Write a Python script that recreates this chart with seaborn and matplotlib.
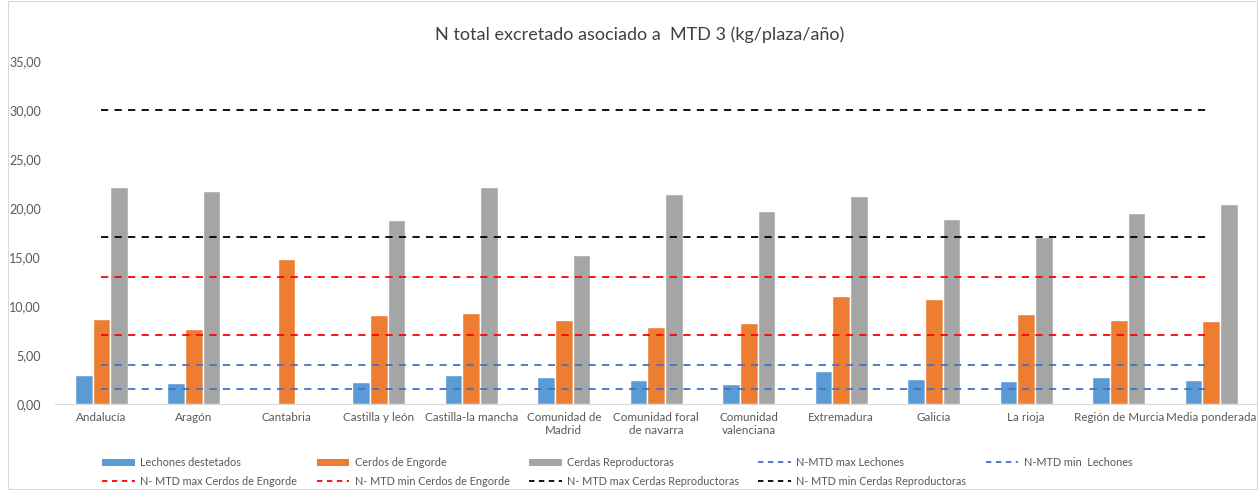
import matplotlib
matplotlib.use("Agg")
import matplotlib.pyplot as plt
import seaborn as sns
import pandas as pd
import numpy as np
from matplotlib.lines import Line2D
from matplotlib.patches import Patch

categories = ["Andalucía", "Aragón", "Cantabria", "Castilla y león", "Castilla-la mancha",
              "Comunidad de\nMadrid", "Comunidad foral\nde navarra", "Comunidad\nvalenciana",
              "Extremadura", "Galicia", "La rioja", "Región de Murcia", "Media ponderada"]
lechones = [2.95, 2.10, np.nan, 2.27, 2.95, 2.80, 2.45, 2.07, 3.35, 2.55, 2.34, 2.75, 2.41]
engorde = [8.65, 7.60, 14.75, 9.05, 9.30, 8.53, 7.88, 8.22, 11.04, 10.70, 9.17, 8.60, 8.45]
cerdas = [22.10, 21.75, np.nan, 18.75, 22.10, 15.20, 21.45, 19.65, 21.20, 18.82, 17.00, 19.47, 20.40]

series_names = ["Lechones destetados", "Cerdos de Engorde", "Cerdas Reproductoras"]
series_colors = ["#5B9BD5", "#ED7D31", "#A5A5A5"]

line_names = ["N-MTD max Lechones", "N-MTD min  Lechones",
              "N- MTD max Cerdos de Engorde", "N- MTD min Cerdos de Engorde",
              "N- MTD max Cerdas Reproductoras", "N- MTD min Cerdas Reproductoras"]
line_values = [4.0, 1.5, 13.0, 7.0, 30.0, 17.0]
line_colors = ["#4472C4", "#4472C4", "#FF0000", "#FF0000", "#000000", "#000000"]

rows = []
for name, vals in zip(series_names, [lechones, engorde, cerdas]):
    for c, v in zip(categories, vals):
        rows.append({"cat": c, "serie": name, "val": v})
df = pd.DataFrame(rows)

sns.set_style("white")
plt.rcParams['font.family'] = ['Lato', 'DejaVu Sans']

fig = plt.figure(figsize=(12.6, 4.9), dpi=100)
ax = fig.add_axes([0.0437, 0.1755, 0.9543, 0.7005])

sns.barplot(data=df, x="cat", y="val", hue="serie", order=categories,
            hue_order=series_names, palette=series_colors, width=0.57, gap=0,
            errorbar=None, ax=ax, legend=False, saturation=1)

n = len(categories)
for v, col in zip(line_values, line_colors):
    ax.plot([0, n - 1], [v, v], linestyle=(0, (4, 3.5)), color=col, linewidth=1.3, zorder=3)

ax.set_xlim(-0.5, n - 0.5)
ax.set_ylim(0, 35)
ax.set_yticks(np.arange(0, 36, 5))
ax.set_yticklabels([f"{t:.2f}".replace(".", ",") for t in np.arange(0, 36, 5)])
ax.set_xlabel("")
ax.set_ylabel("")
for s in ["left", "top", "right"]:
    ax.spines[s].set_visible(False)
ax.spines["bottom"].set_color("#D9D9D9")
ax.tick_params(axis="both", length=0, labelsize=9, labelcolor="#595959", pad=6)
ax.tick_params(axis="x", labelsize=8.4)
ax.tick_params(axis="y", pad=10)

fig.text(0.508, 0.930, "N total excretado asociado a  MTD 3 (kg/plaza/año)",
         ha="center", va="center", fontsize=13, color="#404040")

handles = [Patch(facecolor=c, edgecolor="none") for c in series_colors]
handles += [Line2D([0], [0], color=c, linestyle=(0, (3, 2.5)), linewidth=1.3) for c in line_colors]
labels = series_names + line_names
order = [0, 5, 1, 6, 2, 7, 3, 8, 4]
fig.legend([handles[i] for i in order], [labels[i] for i in order], ncol=5,
           loc="center", bbox_to_anchor=(0.49, 0.037), frameon=False,
           fontsize=7.8, labelcolor="#595959", handlelength=3.0, handleheight=0.6,
           columnspacing=1.8, handletextpad=0.5, labelspacing=0.7)

border = plt.Rectangle((0.006, 0.003), 0.992, 0.994, transform=fig.transFigure,
                       fill=False, edgecolor="#D9D9D9", linewidth=0.8)
fig.patches.append(border)

fig.savefig("out.png", dpi=100)
